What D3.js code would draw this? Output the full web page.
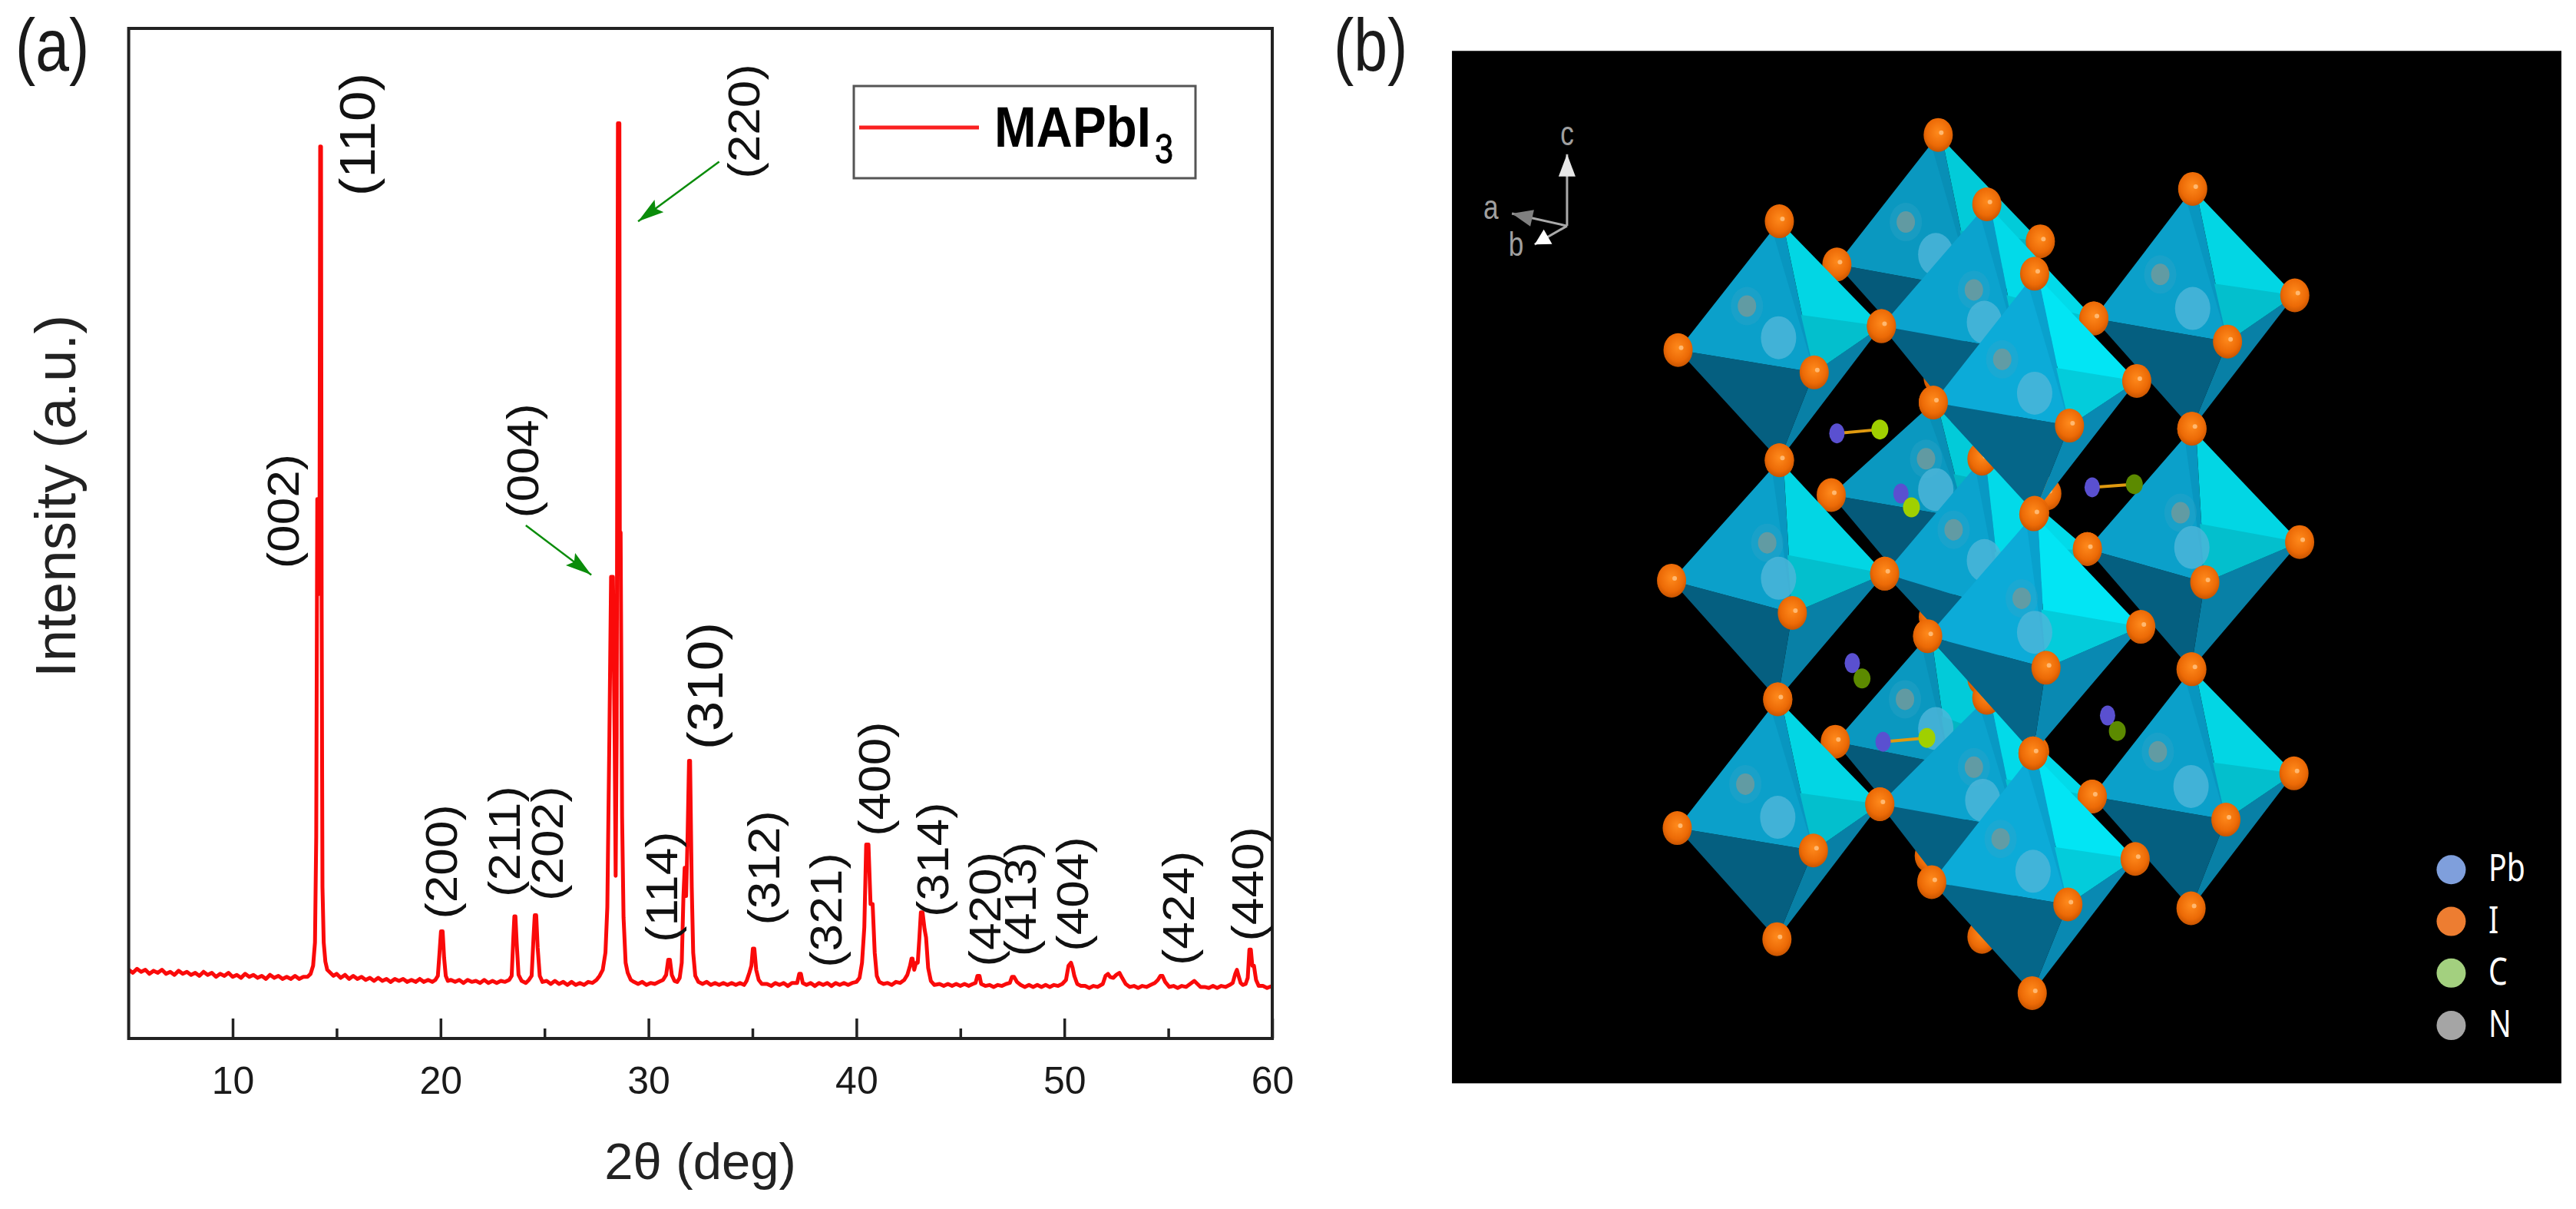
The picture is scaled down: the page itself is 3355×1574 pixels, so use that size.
<!DOCTYPE html>
<html><head><meta charset="utf-8">
<script src="https://cdn.jsdelivr.net/npm/d3@7"></script>
<style>html,body{margin:0;padding:0;background:#fff}svg{display:block}text{font-family:"Liberation Sans",Arial,sans-serif}</style>
</head><body><svg id="c" width="3355" height="1574"></svg>
<script>
// ---------- panel (a) data: [2-theta deg, intensity a.u.] ----------
const xrdPattern = [
[5,68],[5.2,65],[5.4,69],[5.6,66],[5.8,68],[6,64],[6.2,67],[6.4,65],[6.6,68],[6.8,64],[7,66],[7.2,63],[7.4,67],[7.6,64],[7.8,66],[8,63],[8.2,65],[8.4,62],[8.6,66],[8.8,63],[9,65],[9.2,61],[9.4,64],[9.6,62],[9.8,65],[10,61],[10.2,63],[10.4,60],[10.6,64],[10.8,61],[11,63],[11.2,60],[11.4,62],[11.6,59],[11.8,63],[12,60],[12.2,62],[12.4,59],[12.6,61],[12.8,59],[13,62],[13.2,59],[13.4,61],
[13.6,61],[13.75,64],[13.87,72],[13.96,95],[14.02,200],[14.07,534],[14.1,534],[14.14,440],[14.18,520],[14.21,883],[14.25,883],[14.28,430],[14.32,150],[14.38,95],[14.46,76],[14.55,68],[14.7,65],[14.85,62],[15,64],[15.2,60],[15.4,63],[15.6,59],[15.8,62],[16,59],[16.2,61],[16.4,58],[16.6,60],[16.8,57],[17,60],[17.2,57],[17.4,59],[17.6,56],[17.8,59],[18,57],[18.2,59],[18.4,56],[18.6,58],[18.8,56],[19,59],[19.2,56],[19.4,58],[19.6,56],[19.75,58],[19.87,62],[19.95,85],[20.02,106],[20.1,106],[20.17,80],[20.25,62],[20.35,57],
[20.5,58],[20.7,56],[20.9,58],[21.1,55],[21.3,58],[21.5,56],[21.7,57],[21.9,55],[22.1,58],[22.3,55],[22.5,57],[22.7,55],[22.9,57],[23.1,56],[23.3,58],[23.42,62],[23.5,100],[23.55,121],[23.6,121],[23.66,95],[23.75,63],[23.9,57],[24.1,55],[24.25,58],[24.38,62],[24.47,100],[24.53,122],[24.6,122],[24.67,90],[24.77,62],[24.9,56],[25.1,57],[25.3,54],[25.5,57],[25.7,54],[25.9,56],[26.1,53],[26.3,56],[26.5,53],[26.7,55],[26.9,53],[27.1,56],[27.3,55],[27.5,58],[27.65,62],[27.8,68],[27.93,85],[28.02,130],[28.12,300],[28.2,457],[28.29,457],[28.37,300],[28.42,161],[28.47,300],[28.53,906],[28.6,906],[28.62,501],[28.66,501],[28.73,220],[28.8,120],[28.9,75],[29,65],[29.15,58],
[29.3,56],[29.5,54],[29.7,56],[29.9,53],[30.1,55],[30.3,54],[30.5,56],[30.7,58],[30.85,63],[30.95,78],[31.03,78],[31.12,63],[31.25,57],[31.38,56],[31.5,60],[31.6,75],[31.68,140],[31.74,169],[31.78,169],[31.81,141],[31.88,200],[31.95,275],[32,275],[32.08,150],[32.15,85],[32.25,62],[32.4,56],[32.6,54],[32.8,56],[33,53],[33.2,55],[33.4,53],[33.6,55],[33.8,53],[34,55],[34.2,53],[34.4,55],[34.6,53],[34.72,57],[34.85,65],[34.95,72],[35.02,89],[35.09,89],[35.18,68],[35.3,58],[35.45,54],
[35.7,54],[35.9,52],[36.1,55],[36.3,53],[36.5,55],[36.7,52],[36.9,55],[37.15,55],[37.25,64],[37.33,64],[37.42,55],[37.6,53],[37.8,55],[38,52],[38.2,55],[38.4,53],[38.6,55],[38.8,52],[39,55],[39.2,53],[39.4,55],[39.6,53],[39.8,55],[40,56],[40.15,60],[40.27,75],[40.38,110],[40.47,192],[40.58,192],[40.68,133],[40.78,133],[40.88,85],[40.98,62],[41.1,56],[41.3,54],
[41.5,55],[41.7,53],[41.9,56],[42.1,55],[42.3,58],[42.45,63],[42.58,72],[42.65,79],[42.7,79],[42.78,68],[42.87,75],[42.95,75],[43.03,100],[43.1,125],[43.18,125],[43.28,108],[43.35,100],[43.45,70],[43.58,57],[43.75,53],[44,54],[44.2,52],[44.4,54],[44.6,52],[44.8,54],[45,52],[45.2,54],[45.4,52],[45.6,54],[45.73,55],[45.82,62],[45.92,62],[46,54],[46.2,52],[46.4,53],[46.6,51],[46.8,53],[47,52],[47.2,54],[47.38,55],[47.48,61],[47.58,61],[47.72,56],[47.9,53],[48.1,51],[48.3,53],[48.5,51],[48.7,53],[48.9,51],[49.1,53],[49.3,51],[49.5,53],[49.7,52],[49.9,54],[50.08,58],[50.2,72],[50.32,75],[50.4,70],[50.48,62],[50.62,54],[50.8,52],
[51,52],[51.2,50],[51.4,52],[51.6,51],[51.85,54],[51.98,62],[52.1,64],[52.2,61],[52.35,60],[52.5,63],[52.65,65],[52.78,60],[52.95,54],[53.15,51],[53.35,52],[53.55,50],[53.75,52],[53.95,51],[54.15,53],[54.35,55],[54.5,58],[54.62,62],[54.72,62],[54.85,56],[55.05,51],[55.25,52],[55.45,50],[55.65,52],[55.85,51],[56.05,54],[56.25,57],[56.4,54],[56.55,51],[56.75,51],[56.95,50],[57.15,52],[57.35,50],[57.55,52],[57.75,51],[57.95,53],[58.1,55],[58.22,64],[58.3,68],[58.38,62],[58.48,55],[58.58,53],[58.72,54],[58.82,60],[58.9,88],[58.97,88],[59.04,72],[59.12,72],[59.22,58],[59.35,52],[59.55,52],[59.75,50],[60,52]
];
const hklLabels = ["(002)","(110)","(220)","(004)","(310)","(200)","(211)","(202)","(114)","(312)","(321)","(400)","(314)","(420)","(413)","(404)","(424)","(440)"];
const hklTheta  = [12.44,16.02,34.58,23.96,32.73,20.04,23.07,25.13,30.64,35.54,38.54,40.87,43.68,46.19,47.89,50.40,55.49,58.81];
const hklHeight = [522,895,908,572,349,175,195,193,150,169,127,257,177,128,138,143,129,153];
const hklFont   = [64,71,64,64,71,64,64,64,64,64,64,64,64,64,64,64,64,64];
const majorTicks = [10,20,30,40,50,60];
const minorTicks = [15,25,35,45,55];
const xTitle = "2θ (deg)", yTitle = "Intensity (a.u.)", legendName = "MAPbI", legendSub = "3";
// pointer arrows as [from 2θ, from I, to 2θ, to I]
const pointers = [[24.1,508,27.25,459],[33.4,868,29.5,809]];

// ---------- panel (b) data, in picture units of the crop (x,y) ----------
const octahedra = [
 {T:[781,175],L:[656,343],F:[824,375],R:[907,313],B:[781,490],c:[778,330],s:[741,288],k:.95},
 {T:[775,522],L:[649,642],F:[815,672],R:[915,640],B:[775,800],c:[778,635],s:[766,595],k:.95},
 {T:[768,825],L:[654,962],F:[795,992],R:[900,975],B:[770,1110],c:[778,945],s:[740,907],k:.95},
 {T:[585,287],L:[460,454],F:[628,483],R:[711,423],B:[585,597],c:[584,438],s:[545,397],k:1},
 {T:[585,597],L:[452,753],F:[601,795],R:[715,744],B:[583,907],c:[584,750],s:[570,704],k:1},
 {T:[583,907],L:[459,1074],F:[627,1103],R:[709,1043],B:[582,1218],c:[583,1060],s:[543,1017],k:1},
 {T:[1095,245],L:[973,413],F:[1138,443],R:[1221,383],B:[1094,556],c:[1095,400],s:[1055,356],k:1},
 {T:[1094,556],L:[965,712],F:[1110,755],R:[1227,703],B:[1093,868],c:[1094,710],s:[1080,665],k:1},
 {T:[1094,868],L:[971,1033],F:[1136,1063],R:[1220,1003],B:[1093,1178],c:[1093,1020],s:[1052,975],k:1},
 {T:[841,265],L:[711,423],F:[880,455],R:[973,413],B:[840,590],c:[838,418],s:[825,376],k:1.02},
 {T:[835,595],L:[715,744],F:[860,790],R:[965,712],B:[835,880],c:[838,727],s:[800,687],k:1.02},
 {T:[841,905],L:[709,1043],F:[878,1075],R:[971,1033],B:[835,1215],c:[836,1038],s:[825,995],k:1.02},
 {T:[900,355],L:[775,522],F:[943,552],R:[1026,494],B:[900,665],c:[900,510],s:[860,466],k:1.07},
 {T:[899,667],L:[768,825],F:[914,866],R:[1031,813],B:[898,977],c:[900,820],s:[884,776],k:1.07},
 {T:[898,977],L:[773,1144],F:[941,1173],R:[1024,1114],B:[897,1288],c:[898,1130],s:[858,1088],k:1.07}
];
const molecules = [
 [[656,562],[709,557],0],[[735,640],[748,658],0],[[971,632],[1023,628],1],
 [[675,860],[687,880],1],[[713,962],[767,957],0],[[990,928],[1002,948],1]
];
const atomNames = ["Pb","I","C","N"];
const atomColors = ["#7f9fdc","#ed7d31","#a3d07f","#a5a5a5"];
const atomRowY = [1128,1195,1262,1330];
const compass = {origin:[323,293],c:[323,200],a:[255,277],b:[283,317],labels:[["c",323,173],["a",229,269],["b",260,316]]};

// ---------- drawing ----------
const svg = d3.select("#c");
const defs = svg.append("defs");
const ig = defs.append("radialGradient").attr("id","iod").attr("cx","50%").attr("cy","42%").attr("r","58%");
ig.append("stop").attr("offset","0%").attr("stop-color","#ff8a1c");
ig.append("stop").attr("offset","70%").attr("stop-color","#ec6a06");
ig.append("stop").attr("offset","100%").attr("stop-color","#c85400");
const marker = defs.append("marker").attr("id","gh").attr("markerUnits","userSpaceOnUse").attr("markerWidth",40).attr("markerHeight",24)
  .attr("refX",34).attr("refY",10).attr("orient","auto");
marker.append("path").attr("d","M0,0L34,10L0,20L6,10Z").attr("fill","#0a8c0a");

const x = d3.scaleLinear().domain([5,60]).range([167.6,1657]);
const y = d3.scaleLinear().domain([0,1000]).range([1352,37]);
const a = svg.append("g");

a.append("path").datum(xrdPattern).attr("fill","none").attr("stroke","#fa0a0a").attr("stroke-width",5).attr("stroke-linejoin","round")
 .attr("d",d3.line().x(d=>x(d[0])).y(d=>y(d[1])));

a.append("rect").attr("x",x.range()[0]).attr("y",y.range()[1]).attr("width",x.range()[1]-x.range()[0]).attr("height",y.range()[0]-y.range()[1])
 .attr("fill","none").attr("stroke","#222").attr("stroke-width",4);

const axMaj = a.append("g").attr("transform",`translate(0,${y.range()[0]})`)
 .call(d3.axisBottom(x).tickValues(majorTicks).tickFormat(d3.format("d")).tickSizeInner(-26).tickSizeOuter(0).tickPadding(36));
axMaj.select(".domain").remove();
axMaj.selectAll("line").attr("stroke","#222").attr("stroke-width",3.5);
axMaj.selectAll("text").attr("font-size",50).attr("fill","#1a1a1a").style("font-family",'"Liberation Sans",Arial,sans-serif');
const axMin = a.append("g").attr("transform",`translate(0,${y.range()[0]})`)
 .call(d3.axisBottom(x).tickValues(minorTicks).tickFormat("").tickSizeInner(-13).tickSizeOuter(0));
axMin.select(".domain").remove();
axMin.selectAll("line").attr("stroke","#222").attr("stroke-width",3.5);

a.append("text").attr("x",912).attr("y",1535).attr("text-anchor","middle").attr("font-size",67).attr("fill","#222").text(xTitle);
a.append("text").attr("transform","translate(98,646) rotate(-90)").attr("text-anchor","middle").attr("font-size",74.5).attr("fill","#222").text(yTitle);
a.append("text").attr("transform","translate(20,92) scale(.82,1)").attr("font-size",96).attr("fill","#1a1a1a").text("(a)");

a.selectAll(".hkl").data(hklLabels).join("text").attr("class","hkl")
 .attr("transform",(d,i)=>`translate(${x(hklTheta[i])},${y(hklHeight[i])}) rotate(-90) scale(1,.9)`)
 .attr("text-anchor","middle").attr("dy","0.35em").attr("font-size",(d,i)=>hklFont[i]).attr("fill","#111").text(d=>d);

a.selectAll(".ptr").data(pointers).join("line").attr("class","ptr")
 .attr("x1",d=>x(d[0])).attr("y1",d=>y(d[1])).attr("x2",d=>x(d[2])).attr("y2",d=>y(d[3]))
 .attr("stroke","#0a8c0a").attr("stroke-width",2.5).attr("marker-end","url(#gh)");

// legend of (a)
a.append("rect").attr("x",1112).attr("y",112).attr("width",445).attr("height",120).attr("fill","#fff").attr("stroke","#555").attr("stroke-width",3);
a.append("line").attr("x1",1119).attr("x2",1275).attr("y1",166).attr("y2",166).attr("stroke","#fa2020").attr("stroke-width",5);
a.append("text").attr("transform","translate(1295,191) scale(.886,1)").attr("font-size",74).attr("font-weight","bold").attr("fill","#000").text(legendName);
a.append("text").attr("transform","translate(1504,212) scale(.8,1)").attr("font-size",54).attr("fill","#000").attr("stroke","#000").attr("stroke-width",1).text(legendSub);

// panel (b)
const sx = d3.scaleLinear().domain([0,1568]).range([1700,3355]);
const sy = d3.scaleLinear().domain([0,1568]).range([0,1574]);
const b = svg.append("g");
b.append("rect").attr("x",sx(181)).attr("y",sy(66)).attr("width",sx(1550)-sx(181)).attr("height",sy(1405)-sy(66)).attr("fill","#000");
b.append("text").attr("transform","translate(1737,92) scale(.82,1)").attr("font-size",96).attr("fill","#1a1a1a").text("(b)");

const mix = (p,q,t)=>[p[0]+(q[0]-p[0])*t,p[1]+(q[1]-p[1])*t];
const pts = arr=>arr.map(p=>[sx(p[0]),sy(p[1])].join(",")).join(" ");
const tone = (col,k)=>{const c=d3.rgb(col);return d3.rgb(Math.min(255,c.r*k),Math.min(255,c.g*k),Math.min(255,c.b*k)).formatHex();};

octahedra.forEach(o=>{
  const g=b.append("g");
  const T=o.T,L=o.L,F=o.F,R=o.R,B=o.B;
  const poly=(arr,col)=>g.append("polygon").attr("points",pts(arr)).attr("fill",tone(col,o.k));
  poly([L,F,B],"#055f80");
  poly([F,R,B],"#0880a6");
  poly([T,L,F],"#0ba0ca");
  poly([mix(T,L,.07),T,mix(T,R,.04),F],"#0896c0");
  poly([mix(T,R,.04),R,F],"#02d6e4");
  poly([mix(F,T,.38),R,F],"#03bfcd");
  g.append("ellipse").attr("cx",sx(o.s[0])).attr("cy",sy(o.s[1])).attr("rx",21).attr("ry",25).attr("fill","#3aa6c8").attr("opacity",.3);
  g.append("ellipse").attr("cx",sx(o.s[0])).attr("cy",sy(o.s[1])).attr("rx",12).attr("ry",14).attr("fill","#6f9a9c").attr("opacity",.85);
  g.append("ellipse").attr("cx",sx(o.c[0])).attr("cy",sy(o.c[1])).attr("rx",23).attr("ry",28).attr("fill","#4fb6da").attr("opacity",.8);
  [T,L,F,R,B].forEach(p=>{
    g.append("ellipse").attr("cx",sx(p[0])).attr("cy",sy(p[1])).attr("rx",19).attr("ry",22).attr("fill","url(#iod)");
    g.append("circle").attr("cx",sx(p[0])+4).attr("cy",sy(p[1])-3).attr("r",3).attr("fill","#ffb870");
  });
});
molecules.forEach(m=>{
  const [n,c,dark]=m;
  b.append("line").attr("x1",sx(n[0])).attr("y1",sy(n[1])).attr("x2",sx(c[0])).attr("y2",sy(c[1])).attr("stroke","#e09a10").attr("stroke-width",4);
  b.append("ellipse").attr("cx",sx(n[0])).attr("cy",sy(n[1])).attr("rx",10).attr("ry",13).attr("fill","#5a50d0");
  b.append("ellipse").attr("cx",sx(c[0])).attr("cy",sy(c[1])).attr("rx",11).attr("ry",13).attr("fill",dark?"#5c8a00":"#a0d000");
});
// compass
const cg=b.append("g");
const arrow=(to,col,head)=>{
  const o=compass.origin;
  cg.append("line").attr("x1",sx(o[0])).attr("y1",sy(o[1])).attr("x2",sx(to[0])).attr("y2",sy(to[1])).attr("stroke","#aaa").attr("stroke-width",3);
  const a0=Math.atan2(sy(to[1])-sy(o[1]),sx(to[0])-sx(o[0])), h=head,w=11;
  const tip=[sx(to[0]),sy(to[1])], bx=tip[0]-h*Math.cos(a0), by=tip[1]-h*Math.sin(a0);
  cg.append("polygon").attr("points",[tip,[bx-w*Math.sin(a0),by+w*Math.cos(a0)],[bx+w*Math.sin(a0),by-w*Math.cos(a0)]].map(p=>p.join(",")).join(" ")).attr("fill",col);
};
arrow(compass.c,"#e8e8e8",29); arrow(compass.a,"#808080",27); arrow(compass.b,"#ffffff",20);
cg.selectAll("text").data(compass.labels).join("text").attr("transform",d=>`translate(${sx(d[1])},${sy(d[2])}) scale(.8,1)`).attr("dy","0.35em")
  .attr("text-anchor","middle").attr("font-size",44).attr("fill","#a0a0a0").text(d=>d[0]);
// atom legend
const lg=b.selectAll(".atomKey").data(atomNames).join("g").attr("class","atomKey");
lg.append("circle").attr("cx",sx(1414)).attr("cy",(d,i)=>sy(atomRowY[i])).attr("r",19).attr("fill",(d,i)=>atomColors[i]);
lg.append("text").attr("transform",(d,i)=>`translate(${sx(1460)},${sy(atomRowY[i])+15}) scale(.8,1)`).attr("font-size",49).attr("fill","#fff")
  .style("font-family",'"Noto Sans",sans-serif').text(d=>d);
</script></body></html>
